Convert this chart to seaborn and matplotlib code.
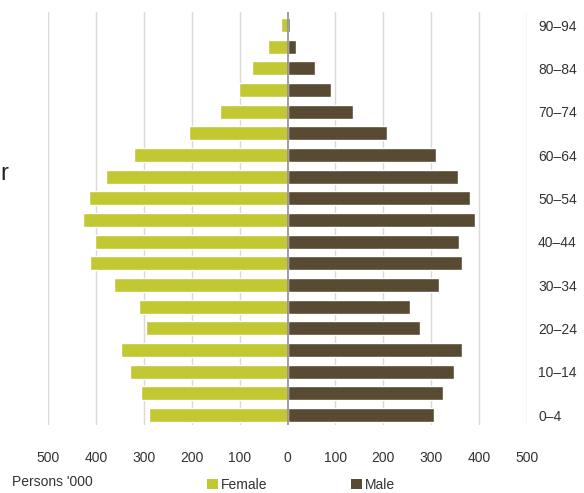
import matplotlib
matplotlib.use("Agg")
import matplotlib.pyplot as plt
from matplotlib.patches import Patch
import seaborn as sns
import pandas as pd

# Age groups, oldest first so they stack from top to bottom
age_groups = ["90–94", "85–89", "80–84", "75–79", "70–74", "65–69", "60–64",
              "55–59", "50–54", "45–49", "40–44", "35–39", "30–34", "25–29",
              "20–24", "15–19", "10–14", "5–9", "0–4"]
# Persons ('000)
female = [13, 41, 75, 101, 141, 206, 320, 379, 414, 427, 401,
          413, 363, 310, 296, 348, 329, 306, 289]
male = [5, 17, 57, 91, 137, 208, 310, 356, 381, 392, 358,
        365, 317, 256, 277, 365, 348, 325, 306]
x_ticks = [-500, -400, -300, -200, -100, 0, 100, 200, 300, 400, 500]
x_tick_labels = ["500", "400", "300", "200", "100", "0", "100", "200", "300", "400", "500"]

female_color = "#C2C832"
male_color = "#594A33"
text_color = "#333333"
fs = 10

sns.set_theme(style="white")
plt.rcParams["font.family"] = ["Liberation Sans", "DejaVu Sans"]

df = pd.DataFrame({"age": age_groups, "female": [-v for v in female], "male": male})

W, H = 584, 493
fig = plt.figure(figsize=(W / 100, H / 100), dpi=100)
ax = fig.add_axes([48 / W, 1 - 425 / H, (527 - 48) / W, (425 - 12) / H])

sns.barplot(data=df, y="age", x="female", order=age_groups, color=female_color,
            width=0.65, saturation=1, ax=ax, zorder=2)
sns.barplot(data=df, y="age", x="male", order=age_groups, color=male_color,
            width=0.65, saturation=1, ax=ax, zorder=2)

ax.set_xlim(-500, 500)
ax.set_ylim(18.46, -0.6)

for xv in x_ticks:
    if xv == 0:
        continue
    ax.axvline(xv, color="#D9D9D9", lw=1.0, zorder=0)
ax.axvline(0, color="#8C8C8C", lw=1.2, zorder=3)

for s in ax.spines.values():
    s.set_visible(False)

ax.set_xticks(x_ticks)
ax.set_xticklabels(x_tick_labels)
ax.tick_params(axis="x", length=0, pad=19, labelsize=fs, labelcolor=text_color)

ax.yaxis.tick_right()
ax.set_yticks(list(range(0, len(age_groups), 2)))
ax.set_yticklabels(age_groups[::2])
ax.tick_params(axis="y", length=0, pad=8, labelsize=fs, labelcolor=text_color)
ax.set_xlabel("")
ax.set_ylabel("")

fig.text(12 / W, 1 - 482 / H, "Persons '000", fontsize=fs, color=text_color,
         ha="left", va="center")
fig.text(0.5 / W, 1 - 174 / H, "r", fontsize=17, color="#222222",
         ha="left", va="center")

handles = [Patch(facecolor=female_color, edgecolor="none", label="Female"),
           Patch(facecolor=male_color, edgecolor="none", label="Male")]
fig.legend(handles=handles, loc="center left", bbox_to_anchor=(207 / W, 1 - 485 / H),
           ncol=2, frameon=False, fontsize=fs, handlelength=0.8, handleheight=0.8,
           handletextpad=0.2, columnspacing=6.0, borderpad=0, borderaxespad=0,
           labelcolor=text_color)

fig.savefig("out.png", dpi=100)
